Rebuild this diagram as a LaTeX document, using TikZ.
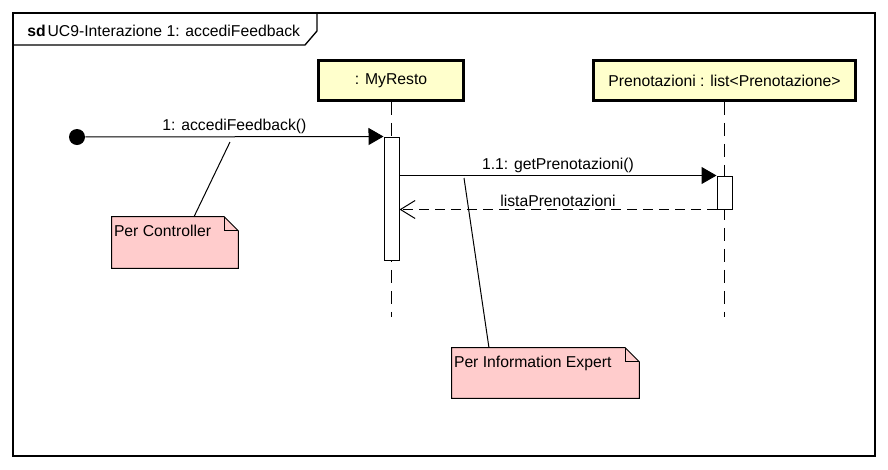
\documentclass[tikz,border=0pt]{standalone}
\usepackage{fontspec}
\setmainfont{Liberation Sans}
\usetikzlibrary{arrows.meta,backgrounds}

\definecolor{objyellow}{RGB}{255,255,204}
\definecolor{notepink}{RGB}{255,204,204}

\tikzset{
  objbox/.style={draw, line width=2.2pt, fill=objyellow, minimum height=30pt, inner sep=0pt},
  actbar/.style={draw, fill=white, line width=0.75pt, minimum width=11.25pt, inner sep=0pt},
  lifeline/.style={line width=0.75pt, dash pattern=on 9.75pt off 6pt},
  msg/.style={line width=0.75pt, -{Triangle[length=11.25pt,width=12.75pt]}},
  reply/.style={line width=0.75pt, dash pattern=on 7.5pt off 4.5pt, -{Straight Barb[length=11pt,width=13.5pt]}},
  note/.style={inner sep=0pt},
  notetext/.style={anchor=north west, inner xsep=1.5pt, inner ysep=6pt},
  lbl/.style={above, inner sep=1.5pt},
}

% ノートの外形 (折り返し付き)
\newcommand{\notefold}[1]{%
  \draw[line width=0.75pt, fill=notepink] (#1.north west) -- ([xshift=-10.5pt]#1.north east)
    -- ([yshift=-10.5pt]#1.north east) -- (#1.south east) -- (#1.south west) -- cycle;
  \draw[line width=0.75pt] ([xshift=-10.5pt]#1.north east) |- ([yshift=-10.5pt]#1.north east);
}

\begin{document}
\begin{tikzpicture}[x=0.75pt, y=-0.75pt, font=\fontsize{11.8}{13.5}\selectfont]
        \useasboundingbox (0,0) rectangle (888,469);

        % フレーム
        \draw[line width=1pt] (13,13) rectangle (875,456);
        \draw[line width=1pt] (13,45) -- (305,45) -- (317,31) -- (317,13);
        \node[anchor=west, inner sep=0pt] (title) at (27,30.5) {\textbf{sd}\kern1.5pt UC9-Interazione 1: accediFeedback};

        % オブジェクト
        \node[objbox, minimum width=108.75pt] (myresto) at (391,80.5) {: MyResto};
        \node[objbox, minimum width=196.5pt] (prenot) at (724.5,80.5) {Prenotazioni : list<Prenotazione>};

        % ライフライン
        \coordinate (myresto-end) at (391,317);
        \coordinate (prenot-end) at (724.5,317);
        \draw[lifeline] (myresto) -- (myresto-end);
        \draw[lifeline] (prenot) -- (prenot-end);

        % 活性区間
        \node[actbar, minimum height=92.25pt] (act1) at (391.5,198.5) {};
        \node[actbar, minimum height=24.75pt] (act2) at (724.5,192.5) {};

        % メッセージ
        \node[circle, fill, inner sep=0pt, minimum size=12pt] (start) at (77,137) {};
        \draw[msg] (start) -- (act1.north west) node[midway, lbl] {1: accediFeedback()};
        \draw[msg] (act1.east |- act2.north west) -- (act2.north west) node[midway, lbl] {1.1: getPrenotazioni()};
        \draw[reply] (act2.south west) -- (act1.east |- act2.south west) node[midway, lbl] {listaPrenotazioni};

        % ノート
        \node[note, minimum width=94.5pt, minimum height=38.25pt] (ctrlnote) at (175,242.5) {};
        \node[note, minimum width=140.25pt, minimum height=37.5pt] (infonote) at (545.5,373) {};
        \begin{scope}[on background layer]
            \notefold{ctrlnote}
            \notefold{infonote}
        \end{scope}
        \node[notetext] (ctrltext) at (ctrlnote.north west) {Per Controller};
        \node[notetext] (infotext) at (infonote.north west) {Per Information Expert};

        % ノートの接続線
        \coordinate (ctrlpt) at (230,142);
        \coordinate (infopt) at (464,178);
        \draw[line width=0.75pt] ([xshift=14.25pt]ctrlnote.north) -- (ctrlpt);
        \draw[line width=0.75pt] ([xshift=-42.4pt]infonote.north) -- (infopt);

    \end{tikzpicture}
\end{document}
